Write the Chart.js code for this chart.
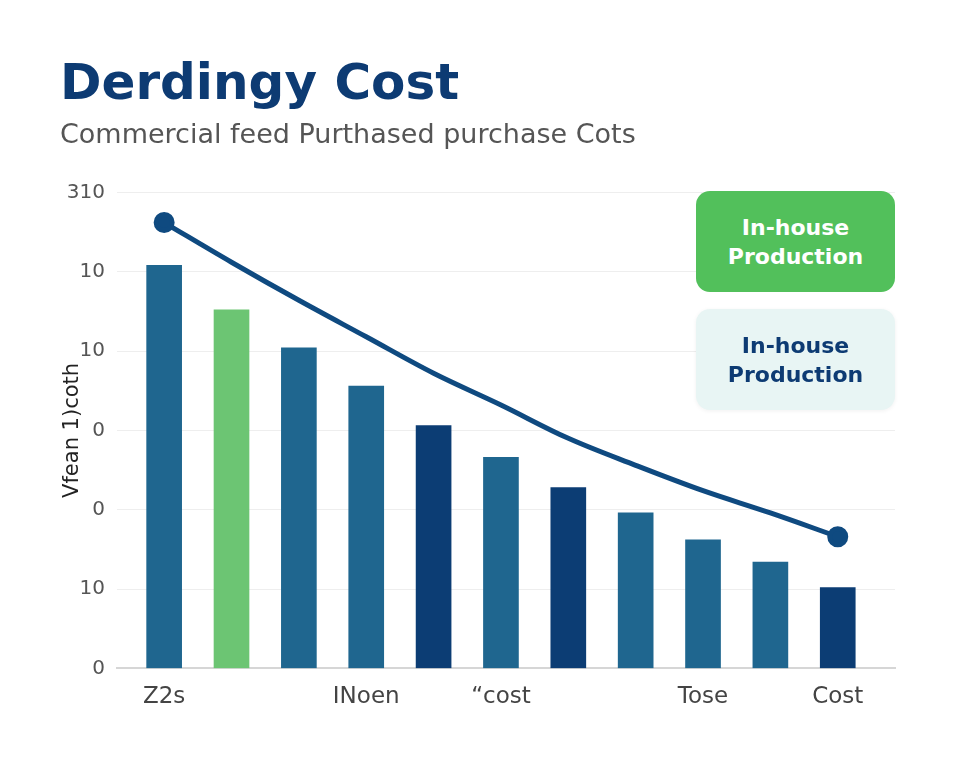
<!DOCTYPE html>
<html>
<head>
<meta charset="utf-8">
<script src="https://cdn.jsdelivr.net/npm/chart.js@4.4.1/dist/chart.umd.min.js"></script>
<style>
    body { margin: 0; background: #ffffff; }
    #wrap { position: relative; width: 960px; height: 768px; }
    .tag {
        position: absolute; left: 696px; width: 199px; height: 101px;
        border-radius: 14px; display: flex; align-items: center; justify-content: center;
        text-align: center; font-family: "DejaVu Sans", sans-serif; font-weight: 700;
        font-size: 22px; line-height: 29px;
    }
    #tagGreen { top: 191px; background: #52c05b; color: #ffffff; }
    #tagLight { top: 309px; background: #e8f5f4; color: #0d3b73; box-shadow: 0 1px 4px rgba(0,0,0,0.06); }
</style>
</head>
<body>
<div id="wrap">
    <canvas id="costChart" width="960" height="768"></canvas>
    <div class="tag" id="tagGreen">In-house<br>Production</div>
    <div class="tag" id="tagLight">In-house<br>Production</div>
</div>
<script>
// values
const xLabels = ['Z2s', '', '', 'INoen', '', '\u201Ccost', '', '', 'Tose', '', 'Cost'];
const yTickLabels = ['0', '10', '0', '0', '10', '10', '310'];
const barValues = [254, 226, 202, 178, 153, 133, 114, 98, 81, 67, 51];
const lineValues = [281, 256, 232, 209, 186, 166, 145, 128, 112, 98, 83];
const barKinds = ['steel', 'green', 'steel', 'steel', 'navy', 'steel', 'navy', 'steel', 'steel', 'steel', 'navy'];

const colors = {
    steel: '#1f668f',
    navy: '#0c3d74',
    green: '#6cc573',
    line: '#0f4a80'
};

let toPoints = (values) => values.map((v, i) => ({ x: i, y: v }));

let ctx = document.getElementById('costChart').getContext('2d');
let costChart = new Chart(ctx, {
    data: {
        datasets: [{
            type: 'line',
            label: 'Trend',
            data: toPoints(lineValues),
            borderColor: colors.line,
            backgroundColor: colors.line,
            borderWidth: 5,
            tension: 0.35,
            pointRadius: (c) => (c.dataIndex === 0 || c.dataIndex === lineValues.length - 1) ? 8 : 0,
            pointHoverRadius: 0,
            order: 0
        }, {
            type: 'bar',
            label: 'Cost',
            data: toPoints(barValues),
            backgroundColor: barKinds.map(k => colors[k]),
            barThickness: 35,
            order: 1
        }]
    },
    options: {
        responsive: false,
        animation: false,
        layout: { padding: { left: 60, right: 65, top: 56, bottom: 50 } },
        plugins: {
            legend: { display: false },
            tooltip: { enabled: false },
            title: {
                display: true,
                text: 'Derdingy Cost',
                align: 'start',
                color: '#0d3b73',
                font: { family: 'DejaVu Sans', size: 50, weight: 'bold' },
                padding: { top: 0, bottom: 4 }
            },
            subtitle: {
                display: true,
                text: 'Commercial feed Purthased purchase Cots',
                align: 'start',
                color: '#555555',
                font: { family: 'DejaVu Sans', size: 27, weight: 'normal' },
                padding: { top: 0, bottom: 40 }
            }
        },
        scales: {
            x: {
                type: 'linear',
                offset: false,
                min: -0.7,
                max: 10.85,
                afterBuildTicks: (axis) => {
                    axis.ticks = xLabels.map((l, i) => ({ value: i }));
                },
                ticks: {
                    autoSkip: false,
                    maxRotation: 0,
                    padding: 7,
                    color: '#444444',
                    font: { family: 'DejaVu Sans', size: 23 },
                    callback: (value) => xLabels[value] || ''
                },
                grid: { display: false },
                border: { color: '#d6d6d6', width: 2 }
            },
            y: {
                min: 0,
                max: 300,
                afterFit: (scale) => { scale.width = 57; },
                ticks: {
                    stepSize: 50,
                    padding: 12,
                    color: '#555555',
                    font: { family: 'DejaVu Sans', size: 20 },
                    callback: (value) => yTickLabels[value / 50]
                },
                grid: { color: '#eeeeee', drawTicks: false },
                border: { display: false },
                title: {
                    display: true,
                    text: 'Vfean 1)coth',
                    color: '#222222',
                    font: { family: 'DejaVu Sans', size: 21 },
                    padding: 0
                }
            }
        }
    }
});
</script>
</body>
</html>
